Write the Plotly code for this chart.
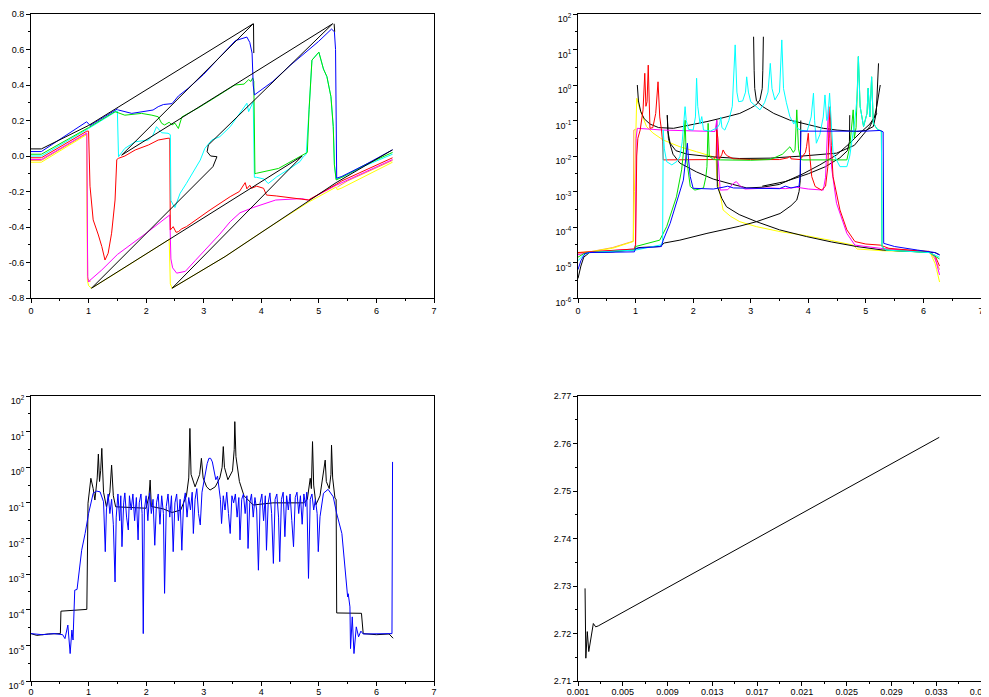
import plotly.graph_objects as go

# ---------------- Top-left panel (linear) ----------------
tl_orange_x = [0, 0.18, 0.965, 0.975, 0.985, 1.03, None, 5.32, 5.5, 6.28]
tl_orange_y = [-0.025, -0.025, 0.125, -0.6, -0.69, -0.71, None, -0.175, -0.14, -0.025]

tl_yellow_x = [0, 0.18, 0.965, 0.98, 1.0, 1.05, 1.5, 2.0, 2.40, 2.42, 2.45, 3.37, 4.0, 4.82, 5.3, 5.32, 5.4, 6.28]
tl_yellow_y = [-0.035, -0.035, 0.12, -0.7, -0.73, -0.745, -0.655, -0.555, -0.47, -0.72, -0.745, -0.567, -0.43, -0.26, -0.175, -0.19, -0.18, -0.035]

tl_magenta_x = [0, 0.18, 0.97, 0.985, 1.0, 1.025, 1.23, 1.5, 2.0, 2.41, 2.43, 2.46, 2.53, 2.68, 2.85, 3.05, 3.28, 3.46, 3.63, 3.86, 4.04, 4.25, 4.7, 4.82, 5.3, 6.28]
tl_magenta_y = [-0.02, -0.02, 0.13, -0.68, -0.71, -0.70, -0.642, -0.555, -0.435, -0.332, -0.58, -0.63, -0.66, -0.65, -0.59, -0.52, -0.44, -0.37, -0.32, -0.29, -0.27, -0.248, -0.24, -0.248, -0.165, -0.02]

tl_red_x = [0, 0.18, 0.97, 1.0, 1.025, 1.08, 1.17, 1.23, 1.285, 1.34, 1.40, 1.46, 1.49, 1.52, 1.63, 1.81, 2.04, 2.21, 2.38, 2.41, 2.42, 2.47, 2.52, 2.56, 2.62, 2.7, 3.11, 3.46, 3.62, 3.69, 3.72, 3.75, 3.8, 3.83, 3.92, 4.04, 4.09, 4.26, 4.62, 4.82, 5.3, 5.4, 6.28]
tl_red_y = [-0.01, -0.01, 0.14, 0.14, -0.17, -0.36, -0.445, -0.51, -0.586, -0.548, -0.435, -0.248, -0.02, -0.013, 0.0, 0.034, 0.062, 0.09, 0.1, 0.1, -0.417, -0.398, -0.43, -0.426, -0.41, -0.398, -0.304, -0.229, -0.2, -0.163, -0.15, -0.185, -0.165, -0.182, -0.17, -0.182, -0.22, -0.225, -0.238, -0.248, -0.16, -0.14, -0.01]

tl_cyan_x = [0, 0.18, 1.0, 1.5, 1.52, 1.63, 1.81, 2.04, 2.12, 2.18, 2.27, 2.38, 2.42, 2.43, 2.47, 2.5, 2.59, 2.7, 2.94, 3.02, 3.14, 3.28, 3.46, 3.6, 3.63, 3.7, 3.75, 3.78, 3.82, 3.86, 3.88, 3.92, 4.05, 4.12, 4.2, 4.27, 4.5, 4.67, 4.73, 4.78, 4.83, 4.88, 5.0, 5.08, 5.14, 5.21, 5.25, 5.27, 5.3, 5.4, 5.8, 6.28]
tl_cyan_y = [0.0, 0.0, 0.155, 0.255, -0.004, 0.043, 0.08, 0.09, 0.118, 0.165, 0.131, 0.128, 0.12, -0.25, -0.276, -0.29, -0.21, -0.154, -0.023, 0.043, 0.09, 0.109, 0.165, 0.23, 0.24, 0.27, 0.297, 0.25, 0.28, 0.306, -0.12, -0.12, -0.13, -0.155, -0.135, -0.117, -0.07, -0.032, -0.004, 0.01, 0.26, 0.54, 0.585, 0.49, 0.447, 0.334, 0.165, -0.05, -0.13, -0.12, -0.055, 0.01]

tl_green_x = [0, 0.18, 1.0, 1.46, 1.63, 1.92, 2.1, 2.21, 2.27, 2.32, 2.4, 2.45, 2.5, 2.56, 2.62, 2.9, 3.2, 3.54, 3.7, 3.78, 3.82, 3.85, 3.87, 3.89, 3.92, 4.3, 4.56, 4.76, 4.8, 4.83, 4.88, 5.0, 5.08, 5.14, 5.21, 5.25, 5.27, 5.3, 5.4, 5.8, 6.28]
tl_green_y = [0.01, 0.01, 0.16, 0.25, 0.23, 0.24, 0.23, 0.221, 0.184, 0.175, 0.19, 0.175, 0.185, 0.155, 0.22, 0.27, 0.33, 0.40, 0.405, 0.43, 0.42, 0.44, 0.42, -0.1, -0.097, -0.07, -0.023, 0.01, 0.02, 0.26, 0.54, 0.585, 0.49, 0.447, 0.334, 0.165, -0.05, -0.135, -0.12, -0.05, 0.02]

tl_blue_x = [0, 0.18, 0.967, 1.025, 1.5, 1.52, 1.75, 1.98, 2.12, 2.21, 2.3, 2.45, 2.56, 2.73, 3.0, 3.2, 3.4, 3.55, 3.7, 3.75, 3.8, 3.84, 3.86, 3.88, 4.2, 4.5, 4.99, 5.15, 5.22, 5.27, 5.29, 5.31, 5.4, 5.8, 6.28]
tl_blue_y = [0.025, 0.025, 0.193, 0.172, 0.265, 0.259, 0.24, 0.25, 0.259, 0.278, 0.29, 0.295, 0.338, 0.381, 0.46, 0.53, 0.6, 0.65, 0.665, 0.67, 0.64, 0.58, 0.4, 0.344, 0.42, 0.51, 0.644, 0.69, 0.715, 0.70, 0.6, -0.125, -0.115, -0.05, 0.035]

tl_black_x = [0, 0.18, 1.0, 1.5, 3.86, 1.575, 5.24, 3.08, 3.06, 3.12, 3.23, 3.16, 1.05, 4.71, 2.45, 3.37, 4.82, 5.3, 6.28, None, 3.865, 3.87, None, 5.265, 5.275]
tl_black_y = [0.04, 0.04, 0.172, 0.272, 0.745, 0.005, 0.745, 0.062, 0.024, 0.0, -0.004, -0.06, -0.745, 0.0, -0.745, -0.567, -0.25, -0.15, 0.035, None, 0.745, 0.58, None, 0.745, 0.70]

# ---------------- Top-right panel (log10 of values) ----------------
tr_orange_x = [0, 0.2, 0.6, 0.96, 0.97, 1.0, None, 5.3, 6.1, 6.2, 6.28]
tr_orange_lg = [-4.74, -4.7, -4.58, -4.4, -1.27, -1.25, None, -4.62, -4.68, -4.9, -5.2]

tr_yellow_x = [0, 0.2, 0.6, 0.96, 0.98, 1.0, 1.02, 1.05, 1.08, 1.19, 1.3, 1.48, 1.77, 2.06, 2.35, 2.40, 2.41, 2.52, 2.65, 2.81, 3.10, 3.51, 3.91, 4.4, 4.78, 4.85, 5.30, 6.11, 6.2, 6.23, 6.28]
tr_yellow_lg = [-4.72, -4.7, -4.6, -4.41, -3.0, -1.3, -0.375, -0.55, -0.7, -1.17, -1.35, -1.55, -1.74, -1.88, -2.02, -2.1, -2.58, -3.52, -3.7, -3.85, -3.99, -4.13, -4.23, -4.38, -4.51, -4.62, -4.67, -4.70, -5.02, -5.2, -5.55]

tr_magenta_x = [0, 0.2, 0.98, 1.0, 1.01, 1.03, 1.48, 2.0, 2.38, 2.40, 2.41, 2.43, 2.47, 2.6, 2.7, 2.75, 2.82, 2.9, 3.34, 3.6, 3.8, 4.0, 4.26, 4.3, 4.33, 4.35, 4.37, 4.41, 4.49, 4.67, 4.81, 5.25, 6.11, 6.2, 6.28]
tr_magenta_lg = [-4.78, -4.71, -4.62, -4.5, -1.5, -1.22, -1.27, -1.29, -1.31, -1.1, -0.99, -2.0, -2.96, -2.95, -2.77, -2.72, -2.85, -2.93, -2.9, -2.92, -2.88, -2.93, -2.96, -2.6, -1.5, -0.61, -1.5, -2.39, -3.33, -4.18, -4.51, -4.6, -4.70, -4.85, -5.35]

tr_red_x = [0, 0.2, 0.98, 1.0, 1.02, 1.04, 1.08, 1.13, 1.16, 1.18, 1.2, 1.22, 1.24, 1.25, 1.3, 1.35, 1.39, 1.42, 1.45, 1.47, 1.48, 1.6, 2.35, 2.4, 2.41, 2.43, 2.45, 2.5, 2.52, 2.56, 2.6, 2.7, 3.0, 3.5, 3.65, 3.68, 3.7, 3.86, 3.95, 3.97, 4.0, 4.02, 4.06, 4.12, 4.23, 4.3, 4.34, 4.36, 4.38, 4.4, 4.43, 4.55, 4.67, 4.81, 5.0, 5.25, 5.4, 6.1, 6.2, 6.28]
tr_red_lg = [-4.72, -4.7, -4.62, -4.5, -2.0, -1.5, -1.27, -0.7, 0.33, -0.6, -0.47, 0.56, -0.8, -1.22, -1.2, -0.8, 0.09, -0.9, -1.27, -1.6, -2.11, -2.11, -2.1, -2.0, -1.27, -1.5, -2.11, -1.95, -1.83, -1.95, -2.0, -2.08, -2.1, -2.1, -2.05, -2.0, -2.08, -2.1, -1.9, -1.74, -1.36, -1.9, -2.58, -2.86, -2.96, -2.85, -2.3, -1.2, -0.61, -1.7, -2.58, -3.52, -4.08, -4.41, -4.48, -4.51, -4.6, -4.70, -4.8, -5.1]

tr_cyan_x = [0, 0.1, 0.2, 1.0, 1.45, 1.47, 1.48, 1.5, 1.54, 1.63, 1.72, 1.77, 1.81, 1.83, 1.86, 1.88, 1.92, 2.0, 2.04, 2.06, 2.08, 2.12, 2.15, 2.18, 2.3, 2.42, 2.46, 2.48, 2.5, 2.55, 2.62, 2.68, 2.73, 2.76, 2.79, 2.86, 2.91, 2.93, 2.96, 3.0, 3.1, 3.16, 3.24, 3.3, 3.34, 3.37, 3.42, 3.5, 3.54, 3.57, 3.62, 3.68, 3.75, 3.77, 3.8, 3.86, 3.98, 4.05, 4.09, 4.11, 4.14, 4.2, 4.26, 4.29, 4.32, 4.34, 4.37, 4.4, 4.43, 4.55, 4.67, 4.72, 4.75, 4.81, 4.85, 4.87, 4.9, 4.96, 5.02, 5.04, 5.07, 5.10, 5.13, 5.2, 5.27, 5.28, 5.35, 6.1, 6.28]
tr_cyan_lg = [-4.95, -4.78, -4.72, -4.65, -4.5, -4.4, -1.27, -1.8, -2.16, -2.25, -2.15, -2.02, -1.6, -1.27, -0.61, -1.0, -1.25, -1.27, -0.9, 0.19, -0.6, -1.1, -0.89, -1.27, -1.3, -1.2, -1.1, -0.9, -1.2, -1.27, -1.0, -0.6, 1.13, -0.2, -0.47, -0.45, -0.2, 0.23, -0.2, -0.47, -0.6, -0.7, -0.5, -0.2, 0.61, -0.1, -0.42, -0.2, 1.27, -0.1, -0.5, -0.89, -1.1, -0.99, -1.2, -1.27, -1.3, -0.9, -0.23, -1.0, -1.64, -1.4, -0.9, -0.28, -1.0, -0.9, -0.23, -1.2, -1.92, -2.3, -2.3, -2.0, -1.64, -0.99, -0.3, 0.80, -0.6, -1.17, -0.8, -0.09, -0.9, 0.23, -1.08, -1.25, -1.3, -4.55, -4.65, -4.72, -4.85]

tr_green_x = [0, 0.1, 0.2, 0.98, 1.0, 1.42, 1.54, 1.71, 1.80, 1.83, 1.86, 1.88, 1.95, 2.03, 2.18, 2.22, 2.24, 2.26, 2.28, 2.35, 2.47, 3.0, 3.34, 3.55, 3.68, 3.74, 3.77, 3.8, 3.83, 3.87, 3.91, 4.67, 4.72, 4.78, 4.80, 4.83, 4.87, 4.9, 4.96, 5.02, 5.04, 5.07, 5.10, 5.13, 5.2, 5.27, 5.28, 5.35, 6.1, 6.28]
tr_green_lg = [-4.85, -4.75, -4.72, -4.65, -4.55, -4.37, -3.99, -3.15, -2.39, -1.92, -0.99, -2.0, -2.86, -2.96, -2.9, -2.6, -2.3, -1.08, -2.0, -2.1, -2.11, -2.12, -2.1, -1.95, -1.74, -1.9, -1.83, -0.7, -1.8, -2.1, -2.11, -2.11, -1.74, -0.70, -1.5, -1.2, 0.80, -0.6, -1.17, -0.8, -0.09, -0.9, 0.23, -1.08, -1.25, -1.3, -4.55, -4.65, -4.72, -4.9]

tr_blue_x = [0, 0.05, 0.12, 0.2, 0.98, 1.0, 1.45, 1.48, 1.6, 1.71, 1.83, 1.87, 1.9, 1.92, 1.95, 2.0, 2.35, 2.52, 2.6, 2.7, 3.0, 3.5, 3.6, 3.7, 3.84, 3.86, 3.87, 4.5, 5.0, 5.25, 5.3, 5.31, 5.5, 5.9, 6.1, 6.2, 6.28]
tr_blue_lg = [-5.2, -4.95, -4.75, -4.72, -4.7, -4.6, -4.55, -4.37, -3.9, -3.33, -2.68, -2.1, -1.64, -2.1, -2.58, -2.91, -2.93, -2.88, -2.85, -2.9, -2.9, -2.92, -2.85, -2.9, -2.85, -2.5, -1.3, -1.31, -1.3, -1.28, -1.32, -4.46, -4.55, -4.65, -4.7, -4.72, -4.79]

tr_black_x = [0, 0.05, 0.1, 0.2, 0.6, 1.0, 1.05, 1.42, 1.5, 1.77, 2.24, 2.8, 3.1, 3.51, 3.7, 3.80, 3.84, 3.86, 3.87, None,
              2.41, 2.42, 2.5, 2.58, 2.8, 3.10, 3.5, 3.97, 4.4, 4.84, 5.3, 6.1, 6.2, 6.28, None,
              1.03, 1.05, 1.09, 1.15, 1.25, 1.4, 1.66, 2.0, 2.24, 2.5, 2.81, 3.0, 3.1, 3.16, 3.2, 3.21, 3.22, None,
              5.22, 5.21, 5.2, 5.18, 5.13, 5.0, 4.84, 4.5, 4.26, 3.95, 3.68, 3.4, 3.2, 3.1, 3.07, 3.06, 3.05, None,
              1.55, 1.56, 1.6, 1.7, 1.9, 2.3, 2.8, 3.34, 3.9, 4.49, 4.8, 5.07, 5.15, 5.19, 5.23, 5.25, None,
              1.55, 1.57, 1.65, 1.77, 2.06, 2.35, 2.64, 2.93, 3.2, 3.5, 3.91, 4.2, 4.49, 4.72, 4.9, 5.07, 5.19, None,
              4.72, 4.715, 4.68, 4.55, 4.3, 4.0, 3.6, 3.2]
tr_black_lg = [-5.45, -5.1, -4.85, -4.72, -4.7, -4.63, -4.58, -4.55, -4.45, -4.37, -4.18, -3.98, -3.85, -3.62, -3.4, -3.24, -3.0, -2.7, -1.0, None,
               -1.0, -2.86, -3.2, -3.43, -3.65, -3.85, -4.08, -4.27, -4.42, -4.55, -4.65, -4.7, -4.72, -4.78, None,
               0.0, -0.45, -0.75, -0.95, -1.1, -1.2, -1.22, -1.12, -1.03, -0.93, -0.8, -0.65, -0.55, -0.42, -0.1, 0.4, 1.36, None,
               0.61, 0.2, -0.3, -0.8, -1.17, -1.28, -1.31, -1.27, -1.22, -1.1, -0.99, -0.8, -0.6, -0.45, -0.1, 0.4, 1.36, None,
               -0.85, -1.3, -1.64, -1.85, -1.95, -2.02, -2.07, -2.06, -2.0, -1.92, -1.7, -1.17, -0.9, -0.6, -0.2, 0.0, None,
               -0.85, -1.5, -1.95, -2.2, -2.45, -2.65, -2.78, -2.9, -2.88, -2.8, -2.5, -2.25, -1.97, -1.64, -1.35, -1.1, -0.8, None,
               -0.85, -1.6, -1.85, -2.05, -2.3, -2.5, -2.72, -2.85]

# ---------------- Bottom-left panel (log10 of values) ----------------
bl_black_x = [0, 0.1, 0.3, 0.51, 0.52, 0.97, 0.99, 1.02, 1.04, 1.08, 1.11, 1.15, 1.17, 1.19, 1.21, 1.23, 1.26, 1.31, 1.37, 1.40, 1.43, 1.47, 1.7, 2.0, 2.05, 2.07, 2.09, 2.3, 2.45, 2.6, 2.7, 2.74, 2.76, 2.78, 2.85, 2.93, 2.96, 2.99, 3.05, 3.11, 3.2, 3.28, 3.32, 3.34, 3.36, 3.42, 3.5, 3.53, 3.54, 3.56, 3.62, 3.7, 3.86, 4.2, 4.5, 4.74, 4.8, 4.83, 4.85, 4.87, 4.89, 4.91, 4.95, 5.02, 5.08, 5.11, 5.13, 5.18, 5.21, 5.22, 5.24, 5.28, 5.30, 5.31, 5.74, 5.77, 6.0, 6.15, 6.22, 6.29]
bl_black_lg = [-4.67, -4.72, -4.68, -4.67, -4.04, -3.99, -1.01, -0.5, -0.31, -0.6, -0.92, -0.3, 0.37, -0.4, -0.1, 0.53, -0.7, -1.11, -0.7, 0.06, -0.8, -1.11, -1.12, -1.15, -0.8, -0.36, -1.1, -1.17, -1.27, -1.2, -0.8, -0.3, 1.09, -0.2, -0.55, -0.2, 0.25, -0.3, -0.55, -0.64, -0.55, -0.3, 0.0, 0.58, 0.0, -0.35, -0.1, 0.5, 1.28, 0.3, -0.4, -0.8, -1.06, -1.0, -1.0, -1.0, -0.9, -0.6, -0.31, -0.6, 0.72, -0.5, -1.05, -0.8, -0.2, 0.2, -0.4, -0.6, -0.2, 0.62, -0.3, -0.87, -0.9, -4.09, -4.1, -4.67, -4.7, -4.7, -4.68, -4.8]

bl_blue_x = [0, 0.2, 0.4, 0.55, 0.59, 0.64, 0.68, 0.71, 0.73, 0.76, 0.80, 0.85, 0.88, 0.94, 1.0, 1.08, 1.14, 1.2, 1.26,
             1.29, 1.31, 1.34, 1.37, 1.40, 1.43, 1.46, 1.48, 1.51, 1.54, 1.56, 1.58, 1.61, 1.63, 1.66, 1.69, 1.71, 1.74, 1.77, 1.80,
             1.83, 1.86, 1.88, 1.91, 1.93, 1.95, 1.97, 2.00, 2.03, 2.06, 2.09, 2.12, 2.15, 2.18, 2.21, 2.24, 2.27, 2.30, 2.32, 2.35,
             2.38, 2.41, 2.44, 2.47, 2.50, 2.53, 2.56, 2.59, 2.62, 2.65, 2.68, 2.71, 2.74, 2.77, 2.80, 2.82, 2.85, 2.88, 2.91, 2.94,
             2.97, 3.00, 3.03, 3.06, 3.09, 3.12, 3.15, 3.18, 3.21, 3.24, 3.27, 3.29, 3.31, 3.34, 3.37, 3.40, 3.43, 3.46, 3.49, 3.52,
             3.55, 3.58, 3.61, 3.63, 3.66, 3.69, 3.72, 3.75, 3.77, 3.80, 3.83, 3.86, 3.89, 3.92, 3.95, 3.98, 4.01, 4.04, 4.07, 4.09,
             4.12, 4.15, 4.18, 4.21, 4.24, 4.27, 4.30, 4.32, 4.35, 4.38, 4.41, 4.44, 4.47, 4.50, 4.53, 4.56, 4.59, 4.62, 4.65, 4.68,
             4.71, 4.74, 4.77, 4.79, 4.82, 4.85, 4.88, 4.91, 4.94, 4.97, 4.99, 5.02, 5.08, 5.16, 5.25, 5.31, 5.40, 5.45, 5.50, 5.51,
             5.54, 5.55, 5.58, 5.61, 5.65, 5.69, 5.73, 5.77, 6.0, 6.27, 6.28]
bl_blue_lg = [-4.67, -4.7, -4.67, -4.7, -4.81, -4.43, -5.23, -4.57, -4.85, -3.45, -3.43, -2.7, -2.33, -1.86, -1.3, -0.73, -0.67, -0.69, -0.97,
              -2.37, -1.2, -0.75, -1.3, -0.9, -1.6, -3.22, -1.4, -0.75, -1.5, -0.8, -2.23, -1.0, -0.72, -1.4, -1.76, -0.8, -1.2, -0.75, -1.5,
              -0.85, -2.04, -1.0, -0.75, -1.3, -4.67, -1.2, -0.8, -1.5, -0.72, -1.3, -0.9, -2.19, -1.0, -0.75, -1.6, -0.8, -1.3, -3.54, -1.1,
              -0.75, -1.4, -0.8, -2.37, -1.0, -0.75, -1.5, -0.9, -2.33, -1.0, -0.72, -1.4, -0.85, -1.2, -0.7, -1.86, -0.9, -0.6, -1.3, -1.62,
              -0.7, -0.4, -0.2, 0.1, 0.25, 0.25, 0.15, -0.1, -0.35, -0.25, -0.6, -0.9, -1.58, -0.8, -1.2, -0.7, -1.3, -1.86, -0.8, -1.0,
              -0.75, -1.4, -0.85, -2.04, -0.9, -0.75, -1.3, -0.8, -2.28, -1.0, -0.75, -1.4, -0.85, -1.2, -2.89, -1.0, -0.75, -1.5, -0.8, -2.33,
              -1.0, -0.72, -1.3, -2.7, -0.9, -0.75, -1.4, -2.65, -0.9, -0.7, -1.95, -0.8, -1.2, -0.75, -1.5, -2.23, -0.85, -0.7, -1.3, -0.8,
              -1.6, -0.75, -1.1, -0.7, -3.12, -0.9, -0.75, -1.2, -0.9, -1.3, -2.37, -1.39, -0.73, -0.62, -0.83, -1.3, -1.86, -2.7, -3.64, -3.55,
              -3.92, -5.09, -4.2, -5.23, -4.48, -4.76, -4.6, -4.68, -4.67, -4.67, 0.15]

# ---------------- Bottom-right panel (linear) ----------------
br_x = [0.00163, 0.00169, 0.0017, 0.00183, 0.00196, 0.00237, 0.00258, 0.00281, 0.03327]
br_y = [2.7295, 2.7148, 2.7148, 2.7204, 2.7162, 2.7221, 2.7214, 2.7216, 2.7613]

# tick labels
lin_x_ticks = [0, 1, 2, 3, 4, 5, 6, 7]
tl_y_ticks = [-0.8, -0.6, -0.4, -0.2, 0.0, 0.2, 0.4, 0.6, 0.8]
tl_y_text = ["-0.8", "-0.6", "-0.4", "-0.2", "0.0", "0.2", "0.4", "0.6", "0.8"]
log_exps = [-6, -5, -4, -3, -2, -1, 0, 1, 2]
br_x_ticks = [0.001, 0.005, 0.009, 0.013, 0.017, 0.021, 0.025, 0.029, 0.033, 0.037]
br_x_text = ["0.001", "0.005", "0.009", "0.013", "0.017", "0.021", "0.025", "0.029", "0.033", "0.037"]
br_y_ticks = [2.71, 2.72, 2.73, 2.74, 2.75, 2.76, 2.77]
br_y_text = ["2.71", "2.72", "2.73", "2.74", "2.75", "2.76", "2.77"]


def pw(vals):
    return [None if v is None else 10 ** v for v in vals]


fig = go.Figure()

def add(x, y, color, ax, w=1.0):
    fig.add_trace(go.Scatter(x=x, y=y, mode="lines", line=dict(color=color, width=w),
                             xaxis="x" + ax, yaxis="y" + ax, showlegend=False,
                             hoverinfo="skip", connectgaps=False))

ORANGE = "#FFA040"
YELLOW = "#FFFF00"
MAGENTA = "#FF00FF"
RED = "#FF0000"
CYAN = "#00FFFF"
GREEN = "#00E000"
BLUE = "#0000FF"
BLACK = "#000000"

# top-left
add(tl_orange_x, tl_orange_y, ORANGE, "")
add(tl_yellow_x, tl_yellow_y, YELLOW, "")
add(tl_magenta_x, tl_magenta_y, MAGENTA, "")
add(tl_red_x, tl_red_y, RED, "")
add(tl_cyan_x, tl_cyan_y, CYAN, "")
add(tl_green_x, tl_green_y, GREEN, "")
add(tl_blue_x, tl_blue_y, BLUE, "")
add(tl_black_x, tl_black_y, BLACK, "")

# top-right
add(tr_orange_x, pw(tr_orange_lg), ORANGE, "2")
add(tr_yellow_x, pw(tr_yellow_lg), YELLOW, "2")
add(tr_black_x, pw(tr_black_lg), BLACK, "2")
add(tr_magenta_x, pw(tr_magenta_lg), MAGENTA, "2")
add(tr_red_x, pw(tr_red_lg), RED, "2")
add(tr_green_x, pw(tr_green_lg), GREEN, "2")
add(tr_cyan_x, pw(tr_cyan_lg), CYAN, "2")
add(tr_blue_x, pw(tr_blue_lg), BLUE, "2")

# bottom-left
add(bl_black_x, pw(bl_black_lg), BLACK, "3")
add(bl_blue_x, pw(bl_blue_lg), BLUE, "3")

# bottom-right
add(br_x, br_y, BLACK, "4")

FONT = dict(family="Liberation Sans, Arial, sans-serif", size=9, color="black")

# the page body has an 8 px margin, so the figure starts at window pixel (8, 8)
W, H, OFF = 981, 689, 8
def xdom(a, b):
    return [(a - OFF) / W, (b - OFF) / W]
def ydom(top, bottom):
    return [1 - (bottom - OFF) / H, 1 - (top - OFF) / H]

XL = xdom(31, 434)
XR = xdom(578, 981)
YT = ydom(14, 298)
YB = ydom(396, 681)


def axis(domain, anchor, **kw):
    d = dict(domain=domain, anchor=anchor, showline=True, mirror=True, linecolor="black",
             linewidth=1, ticks="outside", ticklen=4, tickwidth=1, tickcolor="black",
             showgrid=False, zeroline=False, tickfont=FONT, fixedrange=True, automargin=False,
             ticklabeloverflow="allow")
    d.update(kw)
    return d


log_vals = [10.0 ** e for e in log_exps]
log_text = ["10<sup>%d</sup>" % e for e in log_exps]
log_minor = [10.0 ** (e + 0.5) for e in log_exps[:-1]]
minor_lin_x = dict(dtick=0.5, tick0=0, ticklen=2, tickcolor="black", showgrid=False)
log_minor_d = dict(tickmode="array", tickvals=log_minor, ticklen=2, tickcolor="black", showgrid=False)

fig.update_layout(
    width=W, height=H, margin=dict(l=0, r=0, t=0, b=0, pad=0, autoexpand=False),
    paper_bgcolor="white", plot_bgcolor="white", showlegend=False,
    xaxis=axis(XL, "y", range=[0, 7], tickmode="array", tickvals=lin_x_ticks, minor=minor_lin_x),
    yaxis=axis(YT, "x", range=[-0.8, 0.8], tickmode="array", tickvals=tl_y_ticks, ticktext=tl_y_text,
               minor=dict(dtick=0.1, tick0=0, ticklen=2, tickcolor="black", showgrid=False)),
    xaxis2=axis(XR, "y2", range=[0, 7], tickmode="array", tickvals=lin_x_ticks, minor=minor_lin_x),
    yaxis2=axis(YT, "x2", type="log", range=[-6, 2], tickmode="array", tickvals=log_vals, ticktext=log_text,
                ticklabelshift=5, minor=log_minor_d),
    xaxis3=axis(XL, "y3", range=[0, 7], tickmode="array", tickvals=lin_x_ticks, minor=minor_lin_x,
                ticklabelstandoff=-2),
    yaxis3=axis(YB, "x3", type="log", range=[-6, 2], tickmode="array", tickvals=log_vals, ticktext=log_text,
                ticklabelshift=5, minor=log_minor_d),
    xaxis4=axis(XR, "y4", range=[0.001, 0.037], tickmode="array", tickvals=br_x_ticks, ticktext=br_x_text,
                minor=dict(dtick=0.002, tick0=0.001, ticklen=2, tickcolor="black", showgrid=False),
                ticklabelstandoff=-2),
    yaxis4=axis(YB, "x4", range=[2.71, 2.77], tickmode="array", tickvals=br_y_ticks, ticktext=br_y_text,
                minor=dict(dtick=0.005, tick0=2.71, ticklen=2, tickcolor="black", showgrid=False)),
)

fig.write_html("out.html", config={"responsive": False, "displayModeBar": False})
